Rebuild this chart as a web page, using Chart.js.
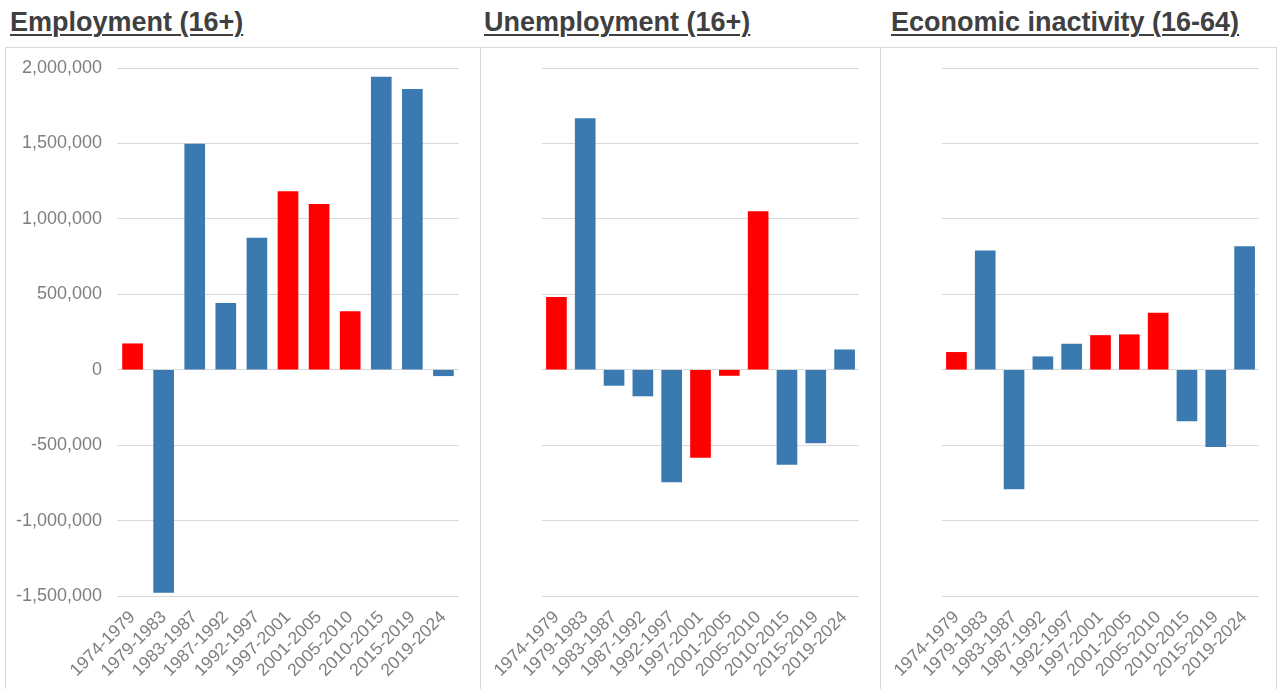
<!DOCTYPE html>
<html>
<head>
<meta charset="utf-8">
<script src="https://cdn.jsdelivr.net/npm/chart.js@4.4.1/dist/chart.umd.min.js"></script>
<style>
    html, body { margin: 0; padding: 0; background: #fff; }
    body { width: 1277px; height: 689px; position: relative; overflow: hidden; font-family: 'Liberation Sans', Arial, sans-serif; }
    .title {
        position: absolute; top: 9px; margin: 0;
        font-size: 27px; line-height: 27px; font-weight: bold;
        color: #404040; text-decoration: underline; text-decoration-thickness: 2px; text-underline-offset: 3px;
        white-space: nowrap;
    }
    .panel { position: absolute; top: 47px; height: 660px; border: 1px solid #d9d9d9; }
    .panel canvas { display: block; }
</style>
</head>
<body>
    <div class="title" style="left:10px">Employment (16+)</div>
    <div class="title" style="left:484px">Unemployment (16+)</div>
    <div class="title" style="left:891px">Economic inactivity (16-64)</div>

    <div class="panel" style="left:5px; width:474px"><canvas id="empChart" width="474" height="641"></canvas></div>
    <div class="panel" style="left:480px; width:399px"><canvas id="unempChart" width="399" height="641"></canvas></div>
    <div class="panel" style="left:880px; width:395px"><canvas id="inactChart" width="395" height="641"></canvas></div>

<script>
// Change over each period of government
const periods = ['1974-1979', '1979-1983', '1983-1987', '1987-1992', '1992-1997', '1997-2001',
                 '2001-2005', '2005-2010', '2010-2015', '2015-2019', '2019-2024'];
const government = ['Labour', 'Conservative', 'Conservative', 'Conservative', 'Conservative', 'Labour',
                    'Labour', 'Labour', 'Conservative', 'Conservative', 'Conservative'];
const employment = [172000, -1477000, 1495000, 440000, 872000, 1181000, 1097000, 385000, 1940000, 1859000, -40000];
const unemployment = [479000, 1665000, -104000, -174000, -744000, -581000, -38000, 1049000, -627000, -486000, 132000];
const inactivity = [115000, 788000, -790000, 86000, 170000, 227000, 232000, 375000, -340000, -510000, 817000];

// Shared value axis
const yMin = -1500000;
const yMax = 2000000;
const yStep = 500000;

const partyColours = { Labour: '#ff0000', Conservative: '#3a7ab1' };
const fontFamily = "'Liberation Sans', Arial, sans-serif";

function makePanel(id, values, opts) {
    const ctx = document.getElementById(id).getContext('2d');
    return new Chart(ctx, {
        type: 'bar',
        data: {
            labels: periods,
            datasets: [{
                data: values,
                backgroundColor: government.map(g => partyColours[g]),
                barThickness: 20
            }]
        },
        options: {
            responsive: false,
            animation: false,
            layout: { padding: { top: 20, right: opts.right, bottom: 0, left: 0 } },
            plugins: {
                legend: { display: false },
                tooltip: { enabled: false }
            },
            scales: {
                y: {
                    min: yMin,
                    max: yMax,
                    border: { display: false },
                    grid: { color: '#d9d9d9', lineWidth: 1, drawTicks: false },
                    ticks: {
                        display: opts.showY,
                        stepSize: yStep,
                        padding: 15,
                        color: '#7f7f7f',
                        font: { family: fontFamily, size: 18 },
                        callback: v => v.toLocaleString('en-US')
                    },
                    // fixed axis width, no extra room above/below the labels
                    afterFit: scale => {
                        scale.width = opts.left;
                        scale.paddingTop = 0;
                        scale.paddingBottom = 0;
                    }
                },
                x: {
                    border: { display: false },
                    grid: { display: false },
                    ticks: {
                        autoSkip: false,
                        minRotation: 45,
                        maxRotation: 45,
                        padding: 3,
                        color: '#7f7f7f',
                        font: { family: fontFamily, size: 17.5 }
                    },
                    afterFit: scale => { scale.height = 93; }
                }
            }
        }
    });
}

makePanel('empChart', employment, { showY: true, left: 111, right: 21 });
makePanel('unempChart', unemployment, { showY: false, left: 61, right: 21 });
makePanel('inactChart', inactivity, { showY: false, left: 61, right: 17 });
</script>
</body>
</html>
